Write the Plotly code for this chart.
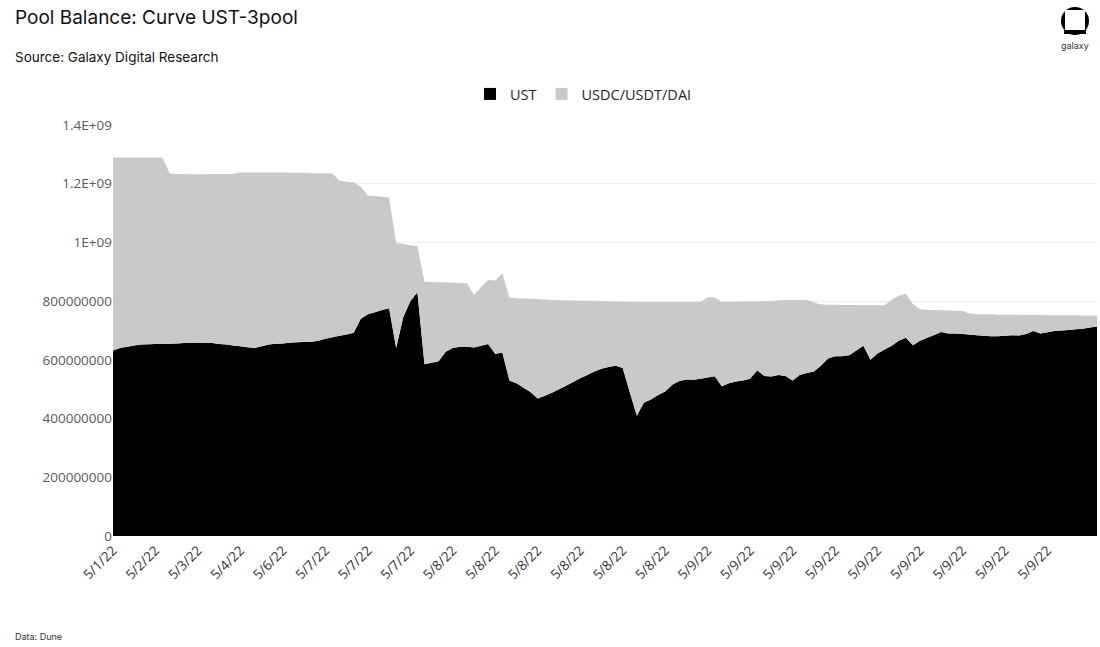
import plotly.graph_objects as go

# Categories (sample index along the time axis) and tick labels
tick_labels = ["5/1/22", "5/2/22", "5/3/22", "5/4/22", "5/6/22", "5/7/22", "5/7/22", "5/7/22",
               "5/8/22", "5/8/22", "5/8/22", "5/8/22", "5/8/22", "5/8/22",
               "5/9/22", "5/9/22", "5/9/22", "5/9/22", "5/9/22", "5/9/22", "5/9/22", "5/9/22", "5/9/22"]
tick_positions = [0, 6, 12, 18, 24, 30, 36, 42, 48, 54, 60, 66, 72, 78, 84, 90, 96, 102, 108, 114, 120, 126, 132]

# UST balance (millions)
ust = [632, 640, 645, 649, 652, 653, 654, 654, 655, 656,
       657, 658, 658, 657, 657, 654, 652, 649, 646, 643,
       640, 646, 652, 655, 656, 658, 660, 661, 662, 665,
       672, 677, 682, 686, 692, 740, 755, 762, 770, 776,
       640, 745, 800, 830, 585, 590, 595, 628, 640, 645,
       645, 642, 648, 654, 620, 625, 530, 520, 505, 490,
       468, 478, 488, 500, 512, 525, 537, 548, 560, 570,
       576, 580, 572, 490, 410, 455, 465, 480, 492, 515,
       528, 533, 532, 536, 540, 544, 510, 520, 526, 530,
       536, 565, 545, 543, 548, 545, 530, 548, 555, 560,
       580, 605, 612, 612, 616, 632, 648, 600, 622, 635,
       648, 665, 675, 650, 665, 675, 685, 695, 690, 690,
       688, 686, 684, 682, 680, 680, 682, 684, 683, 688,
       698, 690, 694, 698, 700, 702, 704, 706, 710, 714]

# USDC/USDT/DAI balance (millions)
usdc_usdt_dai = [657, 649, 644, 640, 637, 636, 635, 635, 580, 577,
                 576, 574, 574, 575, 576, 579, 581, 585, 592, 595,
                 598, 592, 586, 583, 582, 579, 577, 576, 574, 571,
                 564, 558, 528, 521, 513, 450, 405, 396, 386, 377,
                 357, 250, 190, 158, 281, 275, 269, 236, 223, 217,
                 216, 180, 200, 218, 250, 270, 282, 290, 304, 318,
                 339, 328, 316, 303, 291, 277, 265, 253, 241, 230,
                 224, 219, 226, 308, 387, 342, 332, 317, 305, 282,
                 269, 264, 265, 261, 273, 269, 287, 278, 272, 269,
                 263, 234, 255, 257, 255, 259, 274, 256, 249, 235,
                 209, 183, 176, 175, 171, 155, 138, 186, 164, 151,
                 157, 153, 150, 140, 107, 96, 85, 74, 78, 77,
                 78, 72, 71, 73, 75, 74, 72, 70, 71, 65,
                 55, 63, 58, 54, 52, 50, 48, 45, 41, 37]

series_names = ["UST", "USDC/USDT/DAI"]
series_colors = ["#000000", "#c9c9c9"]

x_idx = list(range(len(ust)))
ust_vals = [v * 1e6 for v in ust]
pool_vals = [v * 1e6 for v in usdc_usdt_dai]

y_tickvals = [0, 2e8, 4e8, 6e8, 8e8, 1e9, 1.2e9, 1.4e9]
y_ticktext = ["0", "200000000", "400000000", "600000000", "800000000", "1E+09", "1.2E+09", "1.4E+09"]

fig = go.Figure()
for vals, name, color in zip([ust_vals, pool_vals], series_names, series_colors):
    fig.add_trace(go.Scatter(x=x_idx, y=vals, name=name, mode="none",
                             stackgroup="one", fillcolor=color, showlegend=False,
                             legendgroup=name))
# legend entries with square swatches
for name, color in zip(series_names, series_colors):
    fig.add_trace(go.Scatter(x=[None], y=[None], name=name, mode="markers",
                             marker=dict(symbol="square", size=10, color=color),
                             legendgroup=name, showlegend=True))

W, H = 1100, 647
L, R, T, B = 113, 3, 125, 111
pw, ph = W - L - R, H - T - B


def px(xp):
    return (xp - L) / pw


def py(yp):
    return (H - B - yp) / ph


fig.update_layout(
    width=W, height=H,
    margin=dict(l=L, r=R, t=T, b=B, autoexpand=False),
    paper_bgcolor="white", plot_bgcolor="white",
    showlegend=True,
    legend=dict(orientation="h", x=px(470), xanchor="left", y=py(94), yanchor="middle",
                font=dict(family="Open Sans", size=14.5, color="#262626"),
                itemwidth=30, traceorder="normal", itemsizing="constant"),
    xaxis=dict(range=[0, 139], tickmode="array", tickvals=tick_positions, ticktext=tick_labels,
               tickangle=-45, showgrid=False, zeroline=False, showline=False, ticks="",
               ticklabelstandoff=3,
               tickfont=dict(family="Open Sans", size=13.5, color="#333333")),
    yaxis=dict(range=[0, 1.4e9], tickmode="array", tickvals=y_tickvals, ticktext=y_ticktext,
               showgrid=True, gridcolor="#ececec", gridwidth=1, zeroline=False, showline=False,
               ticks="", tickfont=dict(family="Open Sans", size=13.5, color="#595959")),
    annotations=[
        dict(text="Pool Balance: Curve UST-3pool", x=px(13), y=py(17), xref="paper", yref="paper",
             xanchor="left", yanchor="middle", showarrow=False,
             font=dict(family="Inter", size=19, color="#111111")),
        dict(text="Source: Galaxy Digital Research", x=px(13), y=py(57), xref="paper", yref="paper",
             xanchor="left", yanchor="middle", showarrow=False,
             font=dict(family="Inter", size=13.5, color="#111111")),
        dict(text="Data: Dune", x=px(13), y=py(636), xref="paper", yref="paper",
             xanchor="left", yanchor="middle", showarrow=False,
             font=dict(family="Inter", size=9, color="#333333")),
        dict(text="galaxy", x=px(1075), y=py(46), xref="paper", yref="paper",
             xanchor="center", yanchor="middle", showarrow=False,
             font=dict(family="Inter", size=9, color="#333333")),
    ],
    shapes=[
        dict(type="circle", xref="paper", yref="paper", x0=px(1061), x1=px(1089), y0=py(35), y1=py(7),
             fillcolor="black", line=dict(width=0)),
        dict(type="rect", xref="paper", yref="paper", x0=px(1065), x1=px(1085), y0=py(30), y1=py(10),
             fillcolor="white", line=dict(width=0)),
        dict(type="rect", xref="paper", yref="paper", x0=px(1064), x1=px(1086), y0=py(34), y1=py(30),
             fillcolor="black", line=dict(width=0)),
    ],
)

fig.write_html("out.html", config={"displayModeBar": False},
               post_script="document.body.style.margin='0';document.body.style.overflow='hidden';")
